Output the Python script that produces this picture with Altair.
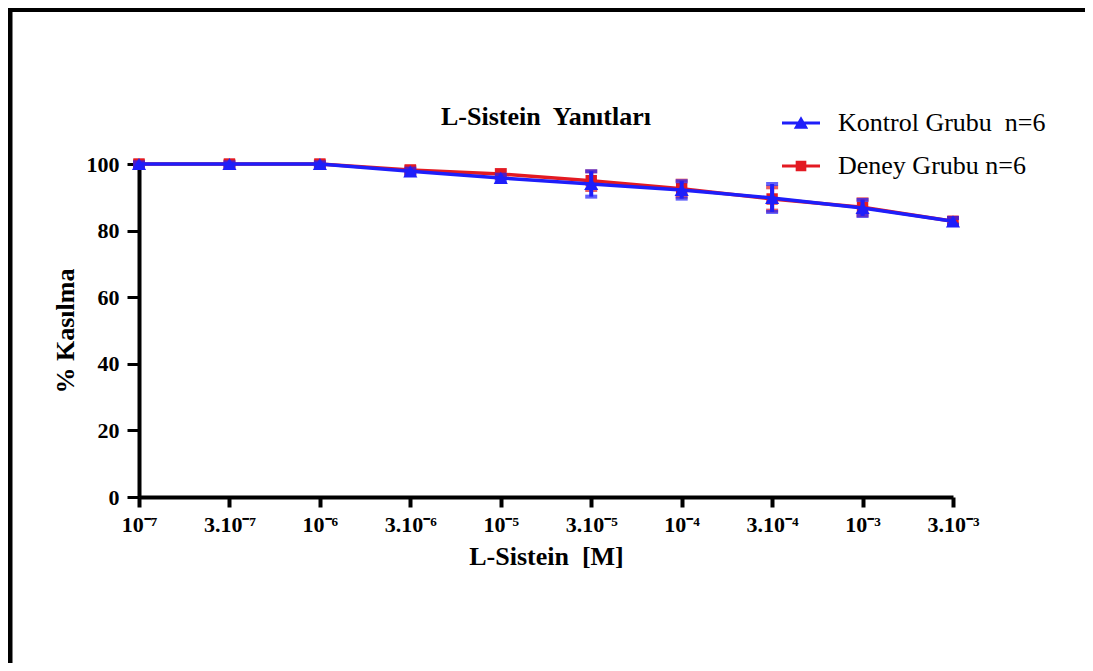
import altair as alt
import pandas as pd

# ---- data ----
conc_labels = ["10⁻⁷", "3.10⁻⁷", "10⁻⁶", "3.10⁻⁶", "10⁻⁵",
               "3.10⁻⁵", "10⁻⁴", "3.10⁻⁴", "10⁻³", "3.10⁻³"]
kontrol_mean = [100, 100, 100, 97.8, 95.8, 94.0, 92.2, 89.8, 86.8, 82.8]
kontrol_err = [0.5, 0.5, 0.5, 0.8, 1.0, 3.8, 2.6, 4.2, 2.4, 1.0]
deney_mean = [100, 100, 100, 98.2, 97.0, 95.0, 92.6, 89.5, 87.0, 82.8]
deney_err = [0.8, 0.8, 0.8, 1.0, 1.2, 2.8, 2.4, 3.5, 2.4, 1.0]
series_names = ["Kontrol Grubu\u00a0 n=6", "Deney Grubu n=6"]
y_ticks = [0, 20, 40, 60, 80, 100]
chart_title = "L-Sistein\u00a0 Yanıtları"

BLUE = "#1e1efa"
RED = "#e31a22"
FONT = "Liberation Serif"

def frame(mean, err, name):
    return pd.DataFrame({
        "conc": conc_labels,
        "mean": mean,
        "lo": [m - e for m, e in zip(mean, err)],
        "hi": [m + e for m, e in zip(mean, err)],
        "series": name,
    })

df_k = frame(kontrol_mean, kontrol_err, series_names[0])
df_d = frame(deney_mean, deney_err, series_names[1])
df_all = pd.concat([df_d, df_k])

x_enc = alt.X("conc:N", sort=conc_labels,
              scale=alt.Scale(type="point", domain=conc_labels, padding=0),
              axis=alt.Axis(title="L-Sistein\u00a0 [M]", labelAngle=0,
                            labelFont=FONT, labelFontWeight="bold", labelFontSize=22,
                            labelColor="black", titleFont=FONT, titleFontWeight="bold",
                            titleFontSize=26, titleColor="black", titlePadding=8,
                            domainColor="black", domainWidth=4, tickColor="black",
                            tickWidth=4, tickSize=10, labelPadding=7, grid=False))
y_scale = alt.Scale(domain=[0, 100], nice=False, zero=True)
y_axis = alt.Axis(title="% Kasılma", values=y_ticks, labelFont=FONT,
                  labelFontWeight="bold", labelFontSize=22, labelColor="black",
                  titleFont=FONT, titleFontWeight="bold", titleFontSize=26,
                  titleColor="black", titlePadding=8, domainColor="black",
                  domainWidth=4, tickColor="black", tickWidth=3, tickSize=12,
                  labelPadding=8, grid=False)


def series_layers(df, color, shape, size):
    base = alt.Chart(df)
    rule = base.mark_rule(color=color, strokeWidth=4).encode(
        x=x_enc, y=alt.Y("lo:Q", scale=y_scale, axis=y_axis), y2="hi:Q")
    caps_lo = base.mark_tick(color=color, thickness=4, size=12).encode(
        x=x_enc, y=alt.Y("lo:Q", scale=y_scale, axis=y_axis))
    caps_hi = base.mark_tick(color=color, thickness=4, size=12).encode(
        x=x_enc, y=alt.Y("hi:Q", scale=y_scale, axis=y_axis))
    line = base.mark_line(color=color, strokeWidth=3.5).encode(
        x=x_enc, y=alt.Y("mean:Q", scale=y_scale, axis=y_axis))
    pts = base.mark_point(color=color, filled=True, opacity=1, shape=shape,
                          size=size).encode(
        x=x_enc, y=alt.Y("mean:Q", scale=y_scale, axis=y_axis))
    return [rule, caps_lo, caps_hi, line, pts]

# legend symbols: line + marker drawn as one custom path
tri_path = ("M-1,-0.08L1,-0.08L1,0.08L-1,0.08Z "
            "M-0.38,0.3L0,-0.36L0.38,0.3Z")
sq_path = ("M-1,-0.08L1,-0.08L1,0.08L-1,0.08Z "
           "M-0.28,-0.28L0.28,-0.28L0.28,0.28L-0.28,0.28Z")

legend_opts = dict(title=None, orient="none", legendX=643, legendY=-60,
                   symbolSize=1444, symbolOpacity=1, symbolStrokeWidth=0,
                   labelFont=FONT, labelFontSize=26, labelColor="black",
                   labelOffset=18, rowPadding=11, padding=0, labelLimit=400)

legend_layer = alt.Chart(df_all).mark_point(filled=True, opacity=0).encode(
    x=x_enc,
    y=alt.Y("mean:Q", scale=y_scale, axis=y_axis),
    color=alt.Color("series:N",
                    scale=alt.Scale(domain=series_names, range=[BLUE, RED]),
                    legend=alt.Legend(**legend_opts)),
    shape=alt.Shape("series:N",
                    scale=alt.Scale(domain=series_names, range=[tri_path, sq_path]),
                    legend=alt.Legend(**legend_opts)),
)

# chart title as a text placed above the plot
title_layer = alt.Chart(pd.DataFrame({"t": [chart_title]})).mark_text(
    font=FONT, fontSize=26, fontWeight="bold", color="black",
    align="center", baseline="middle").encode(
    text="t:N", x=alt.value(407), y=alt.value(-47))

# outer figure frame (top and left thick black lines)
frame_df = pd.DataFrame({"k": [0]})
frame_left = alt.Chart(frame_df).mark_rule(color="black", strokeWidth=5).encode(
    x=alt.value(-129), y=alt.value(-160), y2=alt.value(510))
frame_top = alt.Chart(frame_df).mark_rule(color="black", strokeWidth=5).encode(
    x=alt.value(-135), x2=alt.value(960), y=alt.value(-154.5))

layers = (series_layers(df_d, RED, "square", 130)
          + series_layers(df_k, BLUE, "triangle-up", 200)
          + [legend_layer, title_layer, frame_left, frame_top])

chart = alt.layer(*layers).properties(
    width=814, height=333,
    background="white",
    autosize=alt.AutoSizeParams(type="none"),
    padding={"left": 131, "top": 156, "right": 132, "bottom": 166},
).configure_view(stroke="transparent", strokeWidth=0)

chart.save("out.html", embed_options={"renderer": "svg", "actions": False})
